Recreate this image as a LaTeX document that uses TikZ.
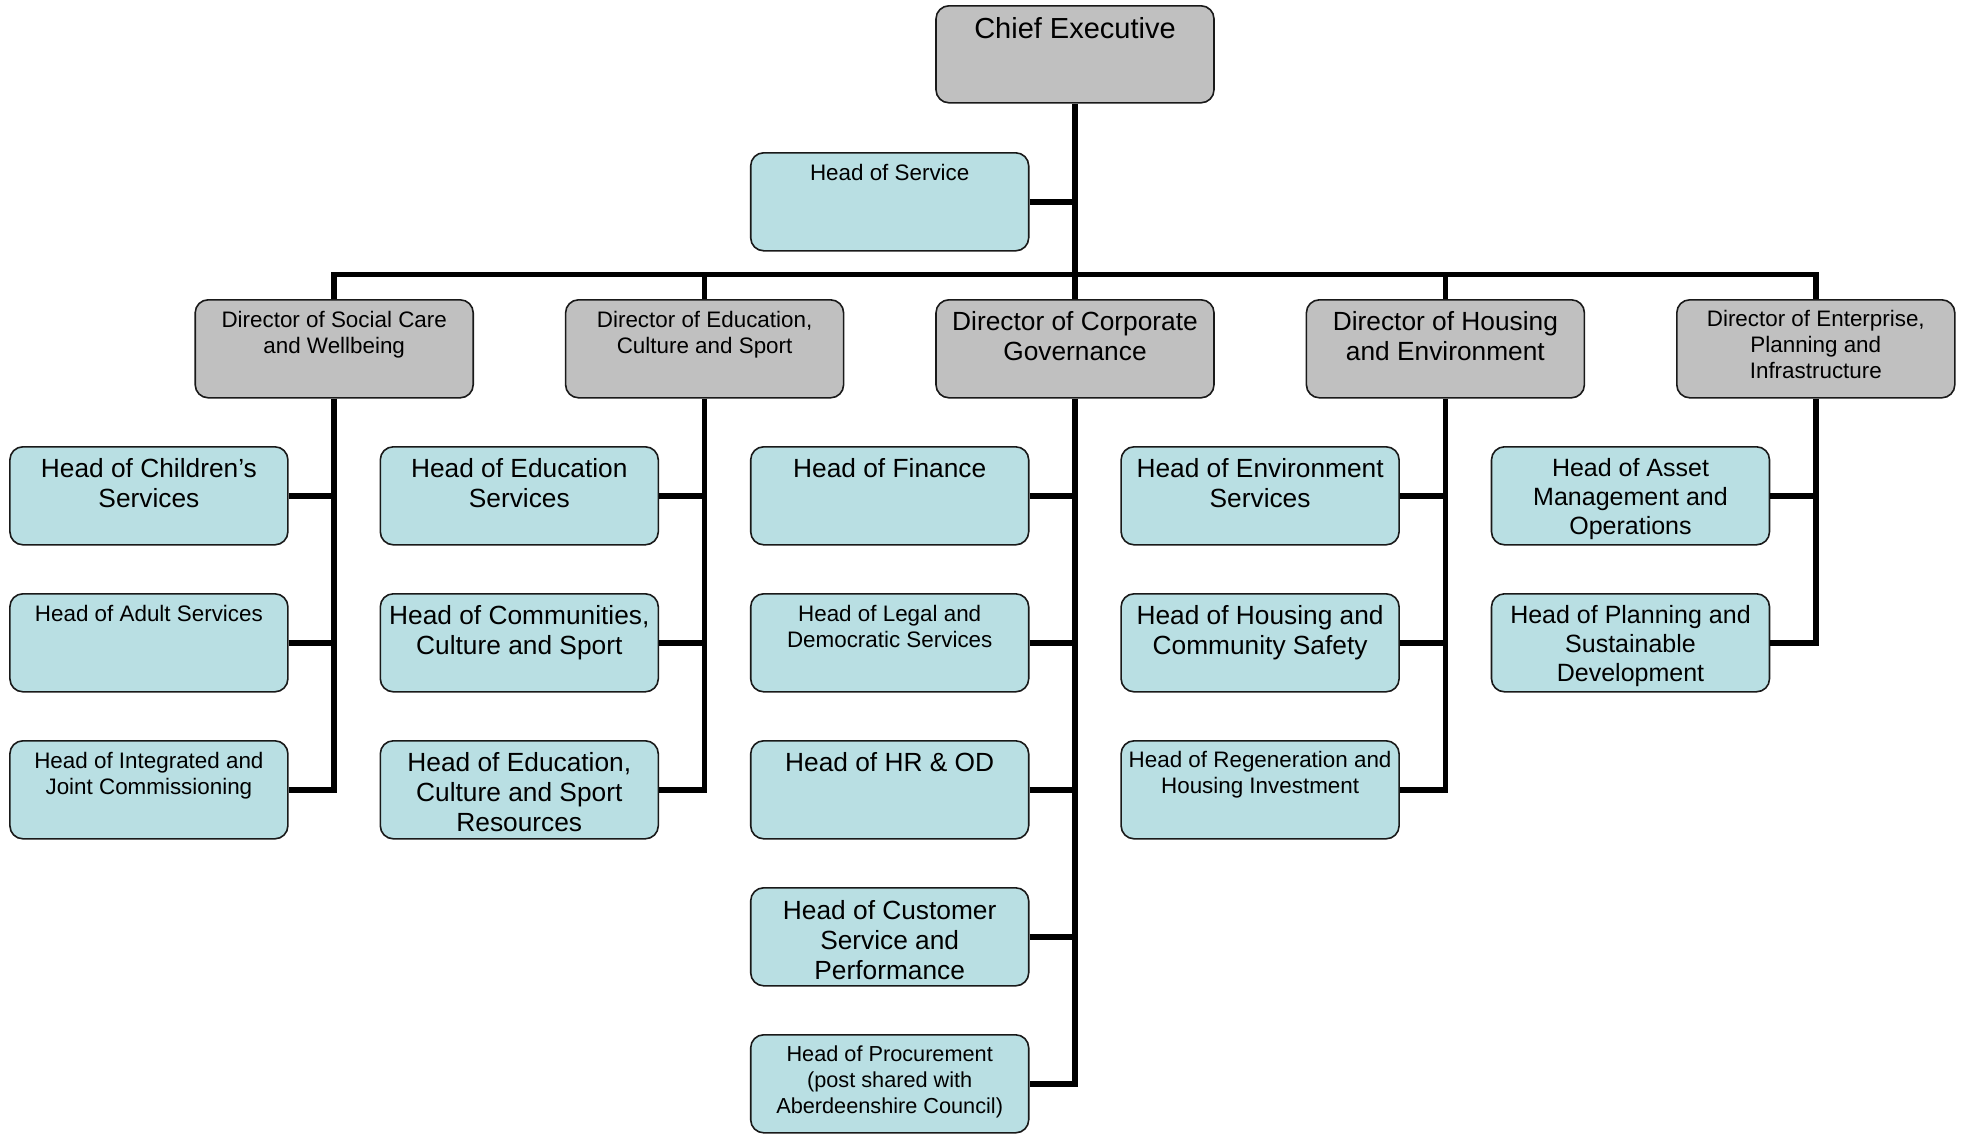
\documentclass[tikz,border=0pt]{standalone}
\usepackage{fontspec}
\setmainfont{Liberation Sans}
\definecolor{boxgrey}{RGB}{192,192,192}
\definecolor{boxblue}{RGB}{185,223,227}
\newcommand\fChief{\fontsize{29}{33}\selectfont}
\newcommand\fBig{\fontsize{26.3}{30}\selectfont}
\newcommand\fMid{\fontsize{25}{29}\selectfont}
\newcommand\fSmall{\fontsize{22.4}{25.8}\selectfont}
\newcommand\fTiny{\fontsize{21.7}{25.7}\selectfont}
\begin{document}
\begin{tikzpicture}[x=1pt,y=-1pt,
  box/.style={draw=black!90, line width=1.6pt, rounded corners=13pt,
    minimum width=278pt, minimum height=98pt, inner sep=0pt, anchor=north},
  dirbox/.style={box, fill=boxgrey},
  headbox/.style={box, fill=boxblue},
  lbl/.style={anchor=north, inner sep=0pt, align=center, text=black},
  link/.style={line width=5.5pt, line join=miter}]
\useasboundingbox (0,0) rectangle (1966,1133);

% column centres and row tops
\def\cA{334.2}\def\cB{704.6}\def\cC{1075}\def\cD{1445.4}\def\cE{1815.8}
\def\hA{148.9}\def\hB{519.3}\def\hC{889.7}\def\hD{1260.1}\def\hE{1630.5}
\def\rA{446}\def\rB{593}\def\rC{740}\def\rD{887}\def\rE{1034}

% top level
\node[dirbox, minimum height=97pt] (chief) at (\cC,5) {};
\node[lbl, font=\fChief] (chief-t) at ([yshift=-12pt]chief.north) {Chief Executive};
\node[headbox] (hos) at (\hC,152) {};
\node[lbl, font=\fSmall] (hos-t) at ([yshift=-12pt]hos.north) {Head of Service};

% directors
\node[dirbox] (d1) at (\cA,299) {};
\node[lbl, font=\fSmall] (d1-t) at ([yshift=-12pt]d1.north) {Director of Social Care\\and Wellbeing};
\node[dirbox] (d2) at (\cB,299) {};
\node[lbl, font=\fSmall] (d2-t) at ([yshift=-12pt]d2.north) {Director of Education,\\Culture and Sport};
\node[dirbox] (d3) at (\cC,299) {};
\node[lbl, font=\fBig] (d3-t) at ([yshift=-12pt]d3.north) {Director of Corporate\\Governance};
\node[dirbox] (d4) at (\cD,299) {};
\node[lbl, font=\fBig] (d4-t) at ([yshift=-12pt]d4.north) {Director of Housing\\and Environment};
\node[dirbox] (d5) at (\cE,299) {};
\node[lbl, font=\fSmall] (d5-t) at ([yshift=-11pt]d5.north) {Director of Enterprise,\\Planning and\\Infrastructure};

% heads under Social Care and Wellbeing
\node[headbox] (a1) at (\hA,\rA) {};
\node[lbl, font=\fBig] (a1-t) at ([yshift=-12pt]a1.north) {Head of Children’s\\Services};
\node[headbox] (a2) at (\hA,\rB) {};
\node[lbl, font=\fSmall] (a2-t) at ([yshift=-12pt]a2.north) {Head of Adult Services};
\node[headbox] (a3) at (\hA,\rC) {};
\node[lbl, font=\fSmall] (a3-t) at ([yshift=-12pt]a3.north) {Head of Integrated and\\Joint Commissioning};

% heads under Education, Culture and Sport
\node[headbox] (b1) at (\hB,\rA) {};
\node[lbl, font=\fBig] (b1-t) at ([yshift=-12pt]b1.north) {Head of Education\\Services};
\node[headbox] (b2) at (\hB,\rB) {};
\node[lbl, font=\fBig] (b2-t) at ([yshift=-12pt]b2.north) {Head of Communities,\\Culture and Sport};
\node[headbox] (b3) at (\hB,\rC) {};
\node[lbl, font=\fBig] (b3-t) at ([yshift=-12.5pt]b3.north) {Head of Education,\\Culture and Sport\\Resources};

% heads under Corporate Governance
\node[headbox] (c1) at (\hC,\rA) {};
\node[lbl, font=\fBig] (c1-t) at ([yshift=-12pt]c1.north) {Head of Finance};
\node[headbox] (c2) at (\hC,\rB) {};
\node[lbl, font=\fSmall] (c2-t) at ([yshift=-12pt]c2.north) {Head of Legal and\\Democratic Services};
\node[headbox] (c3) at (\hC,\rC) {};
\node[lbl, font=\fBig] (c3-t) at ([yshift=-12pt]c3.north) {Head of HR \& OD};
\node[headbox] (c4) at (\hC,\rD) {};
\node[lbl, font=\fBig] (c4-t) at ([yshift=-13pt]c4.north) {Head of Customer\\Service and\\Performance};
\node[headbox] (c5) at (\hC,\rE) {};
\node[lbl, font=\fTiny] (c5-t) at ([yshift=-12pt]c5.north) {Head of Procurement\\(post shared with\\Aberdeenshire Council)};

% heads under Housing and Environment
\node[headbox] (e1) at (\hD,\rA) {};
\node[lbl, font=\fBig] (e1-t) at ([yshift=-12pt]e1.north) {Head of Environment\\Services};
\node[headbox] (e2) at (\hD,\rB) {};
\node[lbl, font=\fBig] (e2-t) at ([yshift=-12pt]e2.north) {Head of Housing and\\Community Safety};
\node[headbox] (e3) at (\hD,\rC) {};
\node[lbl, font=\fSmall] (e3-t) at ([yshift=-11pt]e3.north) {Head of Regeneration and\\Housing Investment};

% heads under Enterprise, Planning and Infrastructure
\node[headbox] (f1) at (\hE,\rA) {};
\node[lbl, font=\fMid] (f1-t) at ([yshift=-12pt]f1.north) {Head of Asset\\Management and\\Operations};
\node[headbox] (f2) at (\hE,\rB) {};
\node[lbl, font=\fMid] (f2-t) at ([yshift=-12pt]f2.north) {Head of Planning and\\Sustainable\\Development};

% connectors
\coordinate (bus) at (\cC,274.6);
\draw[link] (chief.south) -- (d3.north);
\draw[link] (hos.east) -- (hos.east -| chief.south);
\draw[link] (d1.north) -- (d1.north |- bus) -- (d5.north |- bus) -- (d5.north);
\draw[link] (d2.north) -- (d2.north |- bus);
\draw[link] (d4.north) -- (d4.north |- bus);

\draw[link] (d1.south) |- (a3.east);
\draw[link] (a1.east) -- (a1.east -| d1.south);
\draw[link] (a2.east) -- (a2.east -| d1.south);

\draw[link] (d2.south) |- (b3.east);
\draw[link] (b1.east) -- (b1.east -| d2.south);
\draw[link] (b2.east) -- (b2.east -| d2.south);

\draw[link] (d3.south) |- (c5.east);
\draw[link] (c1.east) -- (c1.east -| d3.south);
\draw[link] (c2.east) -- (c2.east -| d3.south);
\draw[link] (c3.east) -- (c3.east -| d3.south);
\draw[link] (c4.east) -- (c4.east -| d3.south);

\draw[link] (d4.south) |- (e3.east);
\draw[link] (e1.east) -- (e1.east -| d4.south);
\draw[link] (e2.east) -- (e2.east -| d4.south);

\draw[link] (d5.south) |- (f2.east);
\draw[link] (f1.east) -- (f1.east -| d5.south);
\end{tikzpicture}
\end{document}
